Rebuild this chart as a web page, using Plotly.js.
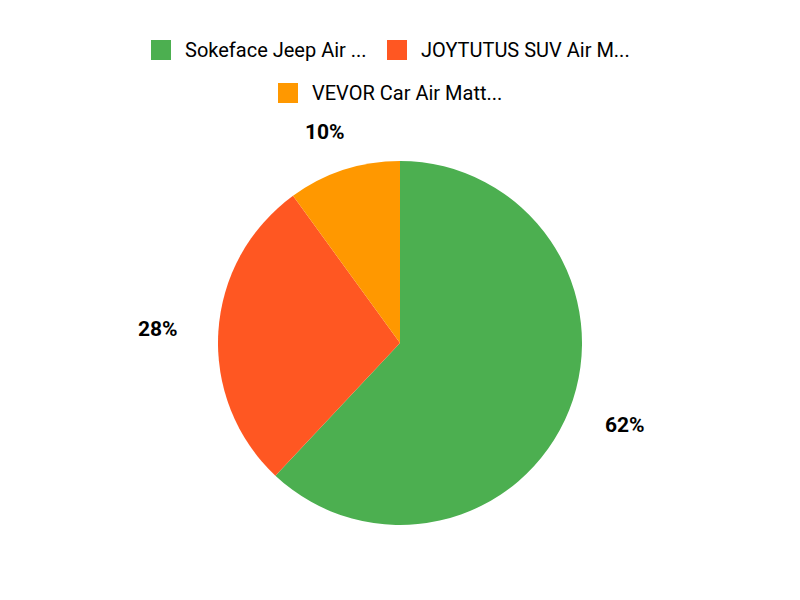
<!DOCTYPE html>
<html>
<head>
<meta charset="utf-8">
<script src="https://cdn.plot.ly/plotly-3.0.1.min.js"></script>
<style>html,body{margin:0;padding:0;background:#fff;}#chart{width:800px;height:600px;}</style>
</head>
<body>
<div id="chart"></div>
<script>
const labels = ["Sokeface Jeep Air ...", "JOYTUTUS SUV Air M...", "VEVOR Car Air Matt..."];
const values = [62, 28, 10];
const colors = ["#4CAF50", "#FF5722", "#FF9800"];

const W = 800, H = 600;
const cx = 400, cy = 343, R = 182;

// legend layout (pixel positions of swatches, row by row)
const legendPos = [
  {sx: 151, sy: 50},
  {sx: 387, sy: 50},
  {sx: 278, sy: 93}
];

const shapes = [];
const annotations = [];
labels.forEach((lab, i) => {
  const p = legendPos[i];
  shapes.push({
    type: "rect", xref: "paper", yref: "paper",
    x0: p.sx / W, x1: (p.sx + 20) / W,
    y0: 1 - (p.sy + 10) / H, y1: 1 - (p.sy - 10) / H,
    fillcolor: colors[i], line: {width: 0}
  });
  annotations.push({
    xref: "paper", yref: "paper",
    x: (p.sx + 32) / W, y: 1 - p.sy / H,
    xanchor: "left", yanchor: "middle",
    text: lab, showarrow: false,
    font: {family: "Roboto", size: 20, color: "#000"}
  });
});

// percentage labels outside slices
const total = values.reduce((a, b) => a + b, 0);
const rx = R + 60, ry = R + 40;
let cum = 0;
values.forEach((v, i) => {
  const mid = (cum + v / 2) / total * 2 * Math.PI;
  cum += v;
  const s = Math.sin(mid), c = Math.cos(mid);
  const px = cx + rx * s, py = cy - ry * c;
  annotations.push({
    xref: "paper", yref: "paper",
    x: px / W, y: 1 - py / H,
    xanchor: "center", yanchor: "middle",
    text: Math.round(v / total * 100) + "%", showarrow: false,
    font: {family: "Roboto", size: 21, color: "#000", weight: "bold"}
  });
});

const data = [{
  type: "pie",
  labels: labels,
  values: values,
  marker: {colors: colors, line: {width: 0}},
  sort: false,
  direction: "clockwise",
  rotation: 0,
  textinfo: "none",
  hoverinfo: "label+percent",
  showlegend: false,
  domain: {x: [(cx - R) / W, (cx + R) / W], y: [1 - (cy + R) / H, 1 - (cy - R) / H]}
}];

const layout = {
  width: W, height: H,
  margin: {l: 0, r: 0, t: 0, b: 0},
  paper_bgcolor: "#fff",
  showlegend: false,
  shapes: shapes,
  annotations: annotations,
  font: {family: "Roboto"}
};

Plotly.newPlot("chart", data, layout, {displayModeBar: false, staticPlot: true});
</script>
</body>
</html>
